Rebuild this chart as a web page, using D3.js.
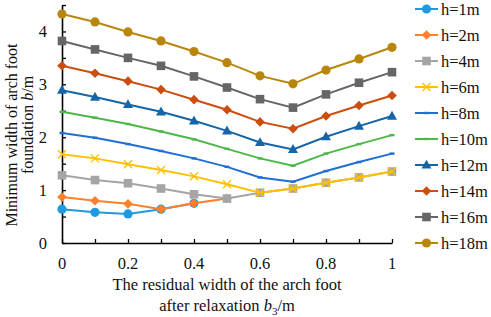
<!DOCTYPE html>
<html>
<head>
<meta charset="utf-8">
<script src="https://cdn.jsdelivr.net/npm/d3@7"></script>
<style>
  body { margin: 0; background: #fff; }
  text { font-family: "Liberation Serif", "Times New Roman", serif; fill: #111; }
</style>
</head>
<body>
<div id="chart-area"></div>
<script>

// residual width b3 (m)
var xValues = [0, 0.1, 0.2, 0.3, 0.4, 0.5, 0.6, 0.7, 0.8, 0.9, 1];

var seriesNames = ["h=1m", "h=2m", "h=4m", "h=6m", "h=8m", "h=10m", "h=12m", "h=14m", "h=16m", "h=18m"];

// minimum width b (m)
var h1  = [0.64, 0.58, 0.55, 0.64, 0.75];
var h2  = [0.87, 0.80, 0.74, 0.64, 0.75, 0.84];
var h4  = [1.28, 1.19, 1.13, 1.03, 0.92, 0.84, 0.95, 1.03, 1.14, 1.24, 1.35];
var h6  = [1.68, 1.60, 1.49, 1.38, 1.26, 1.11, 0.95, 1.03, 1.14, 1.24, 1.35];
var h8  = [2.08, 1.99, 1.87, 1.74, 1.60, 1.44, 1.24, 1.16, 1.36, 1.53, 1.69];
var h10 = [2.48, 2.37, 2.25, 2.11, 1.96, 1.78, 1.60, 1.46, 1.69, 1.87, 2.04];
var h12 = [2.89, 2.76, 2.62, 2.48, 2.31, 2.12, 1.90, 1.77, 2.01, 2.21, 2.40];
var h14 = [3.35, 3.21, 3.06, 2.90, 2.71, 2.52, 2.29, 2.16, 2.40, 2.60, 2.79];
var h16 = [3.82, 3.66, 3.50, 3.35, 3.15, 2.94, 2.72, 2.56, 2.81, 3.03, 3.23];
var h18 = [4.33, 4.18, 3.99, 3.82, 3.62, 3.41, 3.16, 3.01, 3.27, 3.48, 3.70];

var xTicks = [0, 0.2, 0.4, 0.6, 0.8, 1];
var yTicks = [0, 1, 2, 3, 4];

var colors  = ["#1E9BE0", "#FF7F2A", "#A5A5A5", "#FFC000", "#1F6FD6", "#4CB848", "#1565A8", "#CC4E0E", "#666666", "#B8860B"];
var markers = ["circle", "diamond", "square", "cross", "dash", "dash", "triangle", "diamond", "square", "circle"];

var allSeries = [h1, h2, h4, h6, h8, h10, h12, h14, h16, h18];

var W = 491, H = 317;
var margin = { left: 62, right: 99, top: 5, bottom: 74 };
var width = W - margin.left - margin.right,
    height = H - margin.top - margin.bottom;

var svg = d3.select("#chart-area")
    .append("svg")
        .attr("width", W)
        .attr("height", H);

var g = svg.append("g")
    .attr("transform", "translate(" + margin.left + "," + margin.top + ")");

var x = d3.scaleLinear().domain([0, 1]).range([0, width]);
var y = d3.scaleLinear().domain([0, 4.5]).range([height, 0]);

// X Axis (ticks point inward)
var xAxis = g.append("g")
    .attr("transform", "translate(0," + height + ")")
    .call(d3.axisBottom(x).tickValues(d3.range(0, 1.0001, 0.1)).tickSizeInner(-4).tickSizeOuter(0).tickFormat(""));
xAxis.select(".domain").attr("stroke", "#000").attr("stroke-width", 1.6);
xAxis.selectAll(".tick line").attr("stroke", "#000").attr("stroke-width", 1.3);

g.append("g")
    .selectAll("text")
    .data(xTicks)
    .enter().append("text")
        .attr("x", d => x(d))
        .attr("y", height + 26)
        .attr("text-anchor", "middle")
        .attr("font-size", "16.5px")
        .text(d => d3.format("~g")(d));

// Y Axis
var yAxis = g.append("g")
    .call(d3.axisLeft(y).tickValues(d3.range(0, 4.5001, 0.5)).tickSizeInner(-4).tickSizeOuter(0).tickFormat(""));
yAxis.select(".domain").attr("stroke", "#000").attr("stroke-width", 1.6);
yAxis.selectAll(".tick line").attr("stroke", "#000").attr("stroke-width", 1.3);

g.append("g")
    .selectAll("text")
    .data(yTicks)
    .enter().append("text")
        .attr("x", -15)
        .attr("y", d => y(d) + 5.5)
        .attr("text-anchor", "end")
        .attr("font-size", "16.5px")
        .text(d => d);

// X Label
var xl = g.append("text")
    .attr("x", width / 2)
    .attr("y", height + 47)
    .attr("text-anchor", "middle")
    .attr("font-size", "16.5px");
xl.append("tspan").text("The residual width of the arch foot");
var xl2 = g.append("text")
    .attr("x", width / 2)
    .attr("y", height + 68)
    .attr("text-anchor", "middle")
    .attr("font-size", "16.5px");
xl2.append("tspan").text("after relaxation ");
xl2.append("tspan").attr("font-style", "italic").text("b");
xl2.append("tspan").attr("font-size", "11px").attr("dy", 4).text("3");
xl2.append("tspan").attr("dy", -4).text("/m");

// Y Label
var yl = svg.append("text")
    .attr("transform", "translate(17,135) rotate(-90)")
    .attr("text-anchor", "middle")
    .attr("font-size", "16px")
    .text("Minimum width of arch foot");
var yl2 = svg.append("text")
    .attr("transform", "translate(33,125) rotate(-90)")
    .attr("text-anchor", "middle")
    .attr("font-size", "16px");
yl2.append("tspan").text("foundation ");
yl2.append("tspan").attr("font-style", "italic").text("b");
yl2.append("tspan").text("/m");

function drawMarker(sel, type, color) {
    if (type === "circle") {
        sel.append("circle").attr("r", 4.6).attr("fill", color);
    } else if (type === "square") {
        sel.append("rect").attr("x", -4.3).attr("y", -4.3).attr("width", 8.6).attr("height", 8.6).attr("fill", color);
    } else if (type === "diamond") {
        sel.append("path").attr("d", "M0,-4.8L4.8,0L0,4.8L-4.8,0Z").attr("fill", color);
    } else if (type === "triangle") {
        sel.append("path").attr("d", "M0,-5.3L5,3.6L-5,3.6Z").attr("fill", color);
    } else if (type === "cross") {
        sel.append("path").attr("d", "M-4,-4L4,4M-4,4L4,-4").attr("stroke", color).attr("stroke-width", 1.4).attr("fill", "none");
    } else if (type === "dash") {
        sel.append("rect").attr("x", -2.5).attr("y", -1.2).attr("width", 5).attr("height", 2.4).attr("fill", color);
    }
}

var line = d3.line()
    .x((d, i) => x(xValues[i]))
    .y(d => y(d));

allSeries.forEach(function(data, k) {
    var sg = g.append("g");
    sg.append("path")
        .attr("d", line(data))
        .attr("fill", "none")
        .attr("stroke", colors[k])
        .attr("stroke-width", 2);
    sg.selectAll(".pt")
        .data(data)
        .enter().append("g")
            .attr("class", "pt")
            .attr("transform", (d, i) => "translate(" + x(xValues[i]) + "," + y(d) + ")")
            .each(function() { drawMarker(d3.select(this), markers[k], colors[k]); });
});

// Legend
var legend = svg.append("g")
    .attr("transform", "translate(415,9)");

seriesNames.forEach(function(name, k) {
    var lg = legend.append("g").attr("transform", "translate(0," + (k * 26.0) + ")");
    lg.append("line")
        .attr("x1", 0).attr("x2", 23)
        .attr("stroke", colors[k])
        .attr("stroke-width", 2);
    drawMarker(lg.append("g").attr("transform", "translate(11.5,0)"), markers[k], colors[k]);
    lg.append("text")
        .attr("x", 26)
        .attr("y", 5.5)
        .attr("font-size", "16.5px")
        .text(name);
});

</script>
</body>
</html>
